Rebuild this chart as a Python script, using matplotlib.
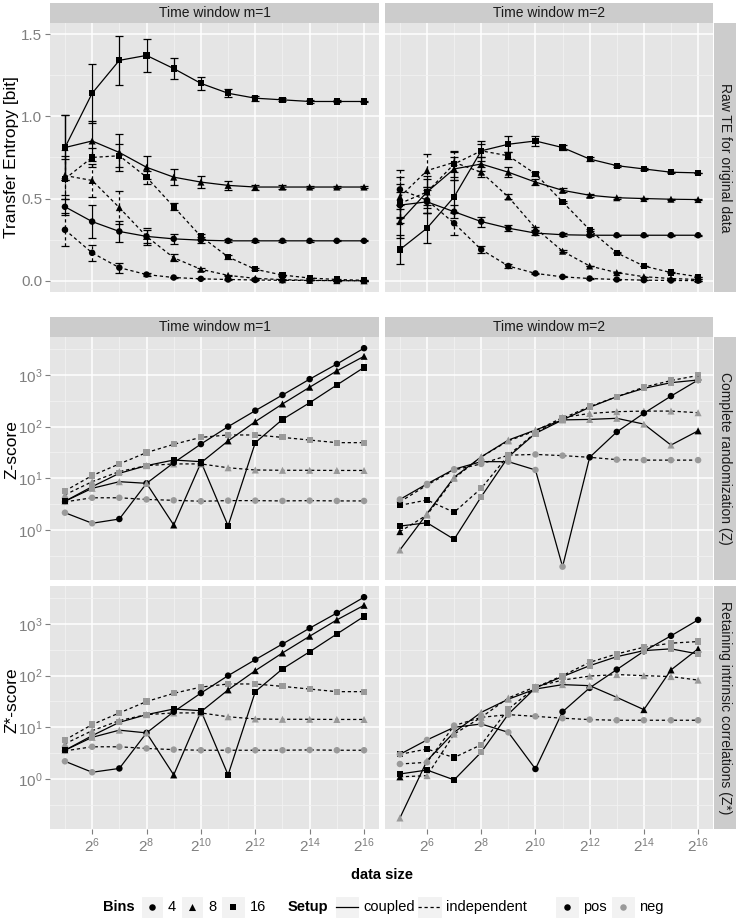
import numpy as np
import matplotlib
matplotlib.use('Agg')
import matplotlib.pyplot as plt
from matplotlib.ticker import FixedLocator, FixedFormatter, NullFormatter
from matplotlib.patches import Rectangle
from matplotlib.lines import Line2D

plt.rcParams['font.family'] = ['Liberation Sans', 'DejaVu Sans']
plt.rcParams['mathtext.fontset'] = 'custom'
plt.rcParams['mathtext.rm'] = 'Liberation Sans'
plt.rcParams['mathtext.default'] = 'regular'

# ---------------- data ----------------
exponents = [5, 6, 7, 8, 9, 10, 11, 12, 13, 14, 15, 16]
sizes = [2 ** e for e in exponents]
xtick_exps = [6, 8, 10, 12, 14, 16]
col_titles = ["Time window m=1", "Time window m=2"]
row_titles = ["Raw TE for original data", "Complete randomization (Z)",
              "Retaining intrinsic correlations (Z*)"]
bins_labels = ["4", "8", "16"]
setup_labels = ["coupled", "independent"]
sign_labels = ["pos", "neg"]

# Raw TE, m=1
te1_c4 = [0.45, 0.36, 0.30, 0.27, 0.255, 0.247, 0.243, 0.243, 0.243, 0.243, 0.243, 0.243]
te1_c4_err = [0.05, 0.10, 0.065, 0.04, 0.03, 0.02, 0.01, 0.008, 0.006, 0.005, 0.004, 0.003]
te1_c8 = [0.81, 0.85, 0.78, 0.69, 0.63, 0.60, 0.58, 0.57, 0.57, 0.57, 0.57, 0.57]
te1_c8_err = [0.20, 0.12, 0.11, 0.07, 0.05, 0.035, 0.025, 0.015, 0.01, 0.008, 0.006, 0.005]
te1_c16 = [0.81, 1.14, 1.34, 1.37, 1.29, 1.20, 1.14, 1.11, 1.10, 1.09, 1.09, 1.09]
te1_c16_err = [0.20, 0.18, 0.15, 0.10, 0.065, 0.04, 0.025, 0.015, 0.01, 0.008, 0.006, 0.005]
te1_i4 = [0.31, 0.17, 0.08, 0.038, 0.02, 0.012, 0.008, 0.005, 0.003, 0.002, 0.001, 0.0]
te1_i4_err = [0.10, 0.05, 0.03, 0.01, 0.005, 0.003, 0.002, 0.001, 0.001, 0.0, 0.0, 0.0]
te1_i8 = [0.64, 0.61, 0.445, 0.27, 0.14, 0.07, 0.033, 0.015, 0.007, 0.003, 0.001, 0.0]
te1_i8_err = [0.12, 0.10, 0.10, 0.05, 0.02, 0.01, 0.005, 0.003, 0.002, 0.001, 0.0, 0.0]
te1_i16 = [0.62, 0.75, 0.76, 0.63, 0.45, 0.27, 0.145, 0.07, 0.035, 0.017, 0.008, 0.003]
te1_i16_err = [0.12, 0.06, 0.07, 0.04, 0.02, 0.015, 0.01, 0.005, 0.003, 0.002, 0.001, 0.0]

# Raw TE, m=2
te2_c4 = [0.46, 0.48, 0.42, 0.36, 0.32, 0.29, 0.28, 0.277, 0.277, 0.277, 0.277, 0.277]
te2_c4_err = [0.08, 0.07, 0.04, 0.03, 0.02, 0.012, 0.008, 0.005, 0.004, 0.003, 0.003, 0.002]
te2_c8 = [0.36, 0.54, 0.68, 0.71, 0.66, 0.60, 0.55, 0.52, 0.505, 0.50, 0.496, 0.494]
te2_c8_err = [0.10, 0.08, 0.07, 0.04, 0.03, 0.02, 0.012, 0.008, 0.005, 0.004, 0.003, 0.002]
te2_c16 = [0.19, 0.32, 0.51, 0.79, 0.83, 0.85, 0.81, 0.74, 0.70, 0.68, 0.66, 0.656]
te2_c16_err = [0.09, 0.09, 0.10, 0.06, 0.05, 0.03, 0.015, 0.01, 0.006, 0.004, 0.003, 0.002]
te2_i4 = [0.555, 0.49, 0.35, 0.19, 0.09, 0.045, 0.024, 0.014, 0.008, 0.004, 0.002, 0.001]
te2_i4_err = [0.12, 0.08, 0.07, 0.02, 0.01, 0.005, 0.003, 0.002, 0.001, 0.0, 0.0, 0.0]
te2_i8 = [0.51, 0.67, 0.72, 0.66, 0.51, 0.32, 0.18, 0.09, 0.05, 0.025, 0.014, 0.008]
te2_i8_err = [0.12, 0.10, 0.06, 0.03, 0.015, 0.01, 0.005, 0.003, 0.002, 0.001, 0.0, 0.0]
te2_i16 = [0.47, 0.54, 0.71, 0.79, 0.76, 0.65, 0.48, 0.31, 0.17, 0.09, 0.05, 0.025]
te2_i16_err = [0.12, 0.10, 0.08, 0.04, 0.02, 0.012, 0.008, 0.005, 0.003, 0.002, 0.001, 0.0]

# Z-score (complete randomization), m=1
z1_c4 = [2.16, 1.35, 1.63, 8.0, 20, 46, 100, 204, 410, 830, 1630, 3300]
z1_c4_sign = ['n', 'n', 'p', 'p', 'p', 'p', 'p', 'p', 'p', 'p', 'p', 'p']
z1_c8 = [3.6, 6.4, 8.6, 8.0, 1.25, 20, 53, 125, 275, 580, 1200, 2300]
z1_c8_sign = ['n', 'n', 'n', 'n', 'p', 'p', 'p', 'p', 'p', 'p', 'p', 'p']
z1_c16 = [3.6, 6.9, 12.5, 17.6, 22.6, 21, 1.2, 49, 138, 290, 640, 1400]
z1_c16_sign = ['p', 'n', 'n', 'n', 'p', 'p', 'p', 'p', 'p', 'p', 'p', 'p']
z1_i4 = [3.5, 4.2, 4.2, 3.9, 3.75, 3.6, 3.7, 3.7, 3.65, 3.7, 3.65, 3.65]
z1_i8 = [4.8, 8.6, 13.5, 17.6, 19, 19, 16, 14.5, 14.3, 14.3, 14.2, 14.2]
z1_i16 = [5.7, 11.3, 19, 31.5, 45.5, 62, 69, 69, 62, 55, 49, 49]
z1_i_sign = ['n'] * 12

# Z-score, m=2
z2_c4 = [3.9, 7.8, 15, 21, 21, 14.5, 0.195, 25.5, 79, 182, 390, 800]
z2_c4_sign = ['n', 'n', 'n', 'n', 'n', 'n', 'n', 'p', 'p', 'p', 'p', 'p']
z2_c8 = [0.41, 2.07, 10.5, 26, 55, 86, 135, 138, 145, 112, 44, 83]
z2_c8_sign = ['n'] * 11 + ['p']
z2_c16 = [1.19, 1.38, 0.66, 4.4, 26, 74, 135, 237, 380, 550, 710, 800]
z2_c16_sign = ['p', 'p', 'p'] + ['n'] * 9
z2_i4 = [3.5, 7.4, 14.5, 19, 28, 29, 27.5, 25.5, 23, 22.5, 22.5, 22.5]
z2_i4_sign = ['n'] * 12
z2_i8 = [0.93, 1.95, 10, 26, 53, 83, 150, 180, 195, 200, 200, 186]
z2_i8_sign = ['p'] + ['n'] * 11
z2_i16 = [3.0, 3.8, 2.2, 6.4, 28, 76, 145, 245, 380, 580, 780, 980]
z2_i16_sign = ['p', 'p', 'p'] + ['n'] * 9

# Z*-score (retaining intrinsic correlations), m=1
zs1_c4 = [2.2, 1.35, 1.6, 7.8, 20, 46, 100, 204, 410, 830, 1630, 3300]
zs1_c4_sign = ['n', 'n', 'p', 'p', 'p', 'p', 'p', 'p', 'p', 'p', 'p', 'p']
zs1_c8 = [3.6, 6.4, 8.8, 7.8, 1.2, 20, 53, 125, 275, 580, 1200, 2300]
zs1_c8_sign = ['n', 'n', 'n', 'n', 'p', 'p', 'p', 'p', 'p', 'p', 'p', 'p']
zs1_c16 = [3.6, 6.9, 12.5, 17.6, 22.6, 21, 1.2, 49, 135, 290, 640, 1400]
zs1_c16_sign = ['p', 'n', 'n', 'n', 'p', 'p', 'p', 'p', 'p', 'p', 'p', 'p']
zs1_i4 = [3.5, 4.2, 4.2, 3.9, 3.7, 3.6, 3.6, 3.6, 3.6, 3.65, 3.6, 3.6]
zs1_i8 = [4.8, 8.6, 13.5, 17.6, 19, 19, 16, 14.5, 14.3, 14.3, 14.2, 14.2]
zs1_i16 = [5.7, 11.3, 19, 31.5, 45.5, 60, 69, 69, 62, 55, 49, 49]
zs1_i_sign = ['n'] * 12

# Z*-score, m=2
zs2_c4 = [3.0, 5.7, 10, 11.6, 8.0, 1.56, 20, 58, 131, 297, 590, 1200]
zs2_c4_sign = ['n'] * 5 + ['p'] * 7
zs2_c8 = [0.176, 2.26, 8.0, 19.5, 35, 55, 67, 64, 38, 22, 129, 330]
zs2_c8_sign = ['n'] * 9 + ['p'] * 3
zs2_c16 = [1.25, 1.49, 0.96, 3.3, 18, 58, 96, 156, 233, 305, 330, 263]
zs2_c16_sign = ['p', 'p', 'p'] + ['n'] * 9
zs2_i4 = [1.95, 2.1, 10.8, 15.6, 17.6, 16.3, 15, 14.1, 13.7, 13.7, 13.7, 13.7]
zs2_i4_sign = ['n'] * 12
zs2_i8 = [1.1, 1.16, 7.4, 15.6, 37, 61, 82, 98, 105, 100, 96, 82]
zs2_i8_sign = ['p'] + ['n'] * 11
zs2_i16 = [3.0, 3.8, 2.6, 4.6, 22.6, 59, 100, 181, 263, 355, 425, 457]
zs2_i16_sign = ['p', 'p', 'p'] + ['n'] * 9

# ---------------- style ----------------
W, H = 737, 919
GREY_NEG = '#9A9A9A'
PANEL_BG = '#E5E5E5'
STRIP_BG = '#CCCCCC'
TICK_COL = '#7F7F7F'
MARKERS = {'4': 'o', '8': '^', '16': 's'}
MSIZE = {'o': 22, '^': 26, 's': 20}
DASH = (0, (2.6, 2.2))
LW = 0.9

fig = plt.figure(figsize=(W / 100, H / 100), dpi=100)


def rect(x0, y0, x1, y1):
    return [x0 / W, 1 - y1 / H, (x1 - x0) / W, (y1 - y0) / H]


LEFT_X = (50, 379)
RIGHT_X = (385, 713)
ROWS_Y = [(23, 292), (337, 580), (586, 829)]
STRIP_X = (714, 736)


def style_panel(ax, kind, show_y, show_x):
    ax.set_facecolor(PANEL_BG)
    ax.set_xscale('log', base=2)
    ax.set_xlim(2 ** 4.45, 2 ** 16.55)
    ax.xaxis.set_major_locator(FixedLocator([2 ** e for e in xtick_exps]))
    ax.xaxis.set_major_formatter(FixedFormatter(['$2^{%d}$' % e for e in xtick_exps]))
    ax.xaxis.set_minor_locator(FixedLocator([2 ** e for e in range(5, 17, 2)]))
    ax.xaxis.set_minor_formatter(NullFormatter())
    if kind == 'te':
        ax.set_ylim(-0.068, 1.567)
        ax.yaxis.set_major_locator(FixedLocator([0, 0.5, 1.0, 1.5]))
        ax.yaxis.set_major_formatter(FixedFormatter(['0.0', '0.5', '1.0', '1.5']))
        ax.yaxis.set_minor_locator(FixedLocator([0.25, 0.75, 1.25]))
    else:
        ax.set_yscale('log')
        ax.set_ylim(10 ** -0.968, 10 ** 3.735)
        ax.yaxis.set_major_locator(FixedLocator([1, 10, 100, 1000]))
        ax.yaxis.set_major_formatter(FixedFormatter(['$10^{0}$', '$10^{1}$', '$10^{2}$', '$10^{3}$']))
        ax.yaxis.set_minor_locator(FixedLocator([10 ** (k + 0.5) for k in range(-1, 4)]))
    ax.yaxis.set_minor_formatter(NullFormatter())
    ax.grid(which='major', color='white', lw=1.1)
    ax.grid(which='minor', color='#F2F2F2', lw=0.6)
    ax.set_axisbelow(True)
    for sp in ax.spines.values():
        sp.set_visible(False)
    ax.tick_params(which='minor', length=0)
    ax.tick_params(axis='y', which='major', length=3.5 if show_y else 0, color=TICK_COL,
                   labelcolor=TICK_COL, labelsize=11, labelleft=show_y, pad=2)
    ax.tick_params(axis='x', which='major', length=3.5 if show_x else 0, color=TICK_COL,
                   labelcolor=TICK_COL, labelsize=11, labelbottom=show_x, pad=2)


def add_strip(x0, y0, x1, y1, text, rot):
    sa = fig.add_axes(rect(x0, y0, x1, y1))
    sa.set_facecolor(STRIP_BG)
    sa.set_xticks([])
    sa.set_yticks([])
    for sp in sa.spines.values():
        sp.set_visible(False)
    sa.text(0.5, 0.5, text, rotation=rot, ha='center', va='center',
            fontsize=10, color='#1A1A1A', transform=sa.transAxes)


def draw_series(ax, y, setup, b, signs, err=None):
    ls = '-' if setup == 'coupled' else DASH
    ax.plot(sizes, y, color='black', lw=LW, ls=ls, zorder=3)
    if err is not None:
        eb = ax.errorbar(sizes, y, yerr=err, fmt='none', ecolor='black',
                         elinewidth=LW, capsize=2.6, capthick=LW, zorder=3)
        eb[2][0].set_linestyle(ls)
    m = MARKERS[b]
    cols = ['black' if s == 'p' else GREY_NEG for s in signs]
    ax.scatter(sizes, y, marker=m, c=cols, s=MSIZE[m], linewidths=0, zorder=4)


ALLPOS = ['p'] * 12

panels = [
    # row 0: raw TE
    [
        [(te1_i4, 'independent', '4', ALLPOS, te1_i4_err),
         (te1_i8, 'independent', '8', ALLPOS, te1_i8_err),
         (te1_i16, 'independent', '16', ALLPOS, te1_i16_err),
         (te1_c4, 'coupled', '4', ALLPOS, te1_c4_err),
         (te1_c8, 'coupled', '8', ALLPOS, te1_c8_err),
         (te1_c16, 'coupled', '16', ALLPOS, te1_c16_err)],
        [(te2_i4, 'independent', '4', ALLPOS, te2_i4_err),
         (te2_i8, 'independent', '8', ALLPOS, te2_i8_err),
         (te2_i16, 'independent', '16', ALLPOS, te2_i16_err),
         (te2_c4, 'coupled', '4', ALLPOS, te2_c4_err),
         (te2_c8, 'coupled', '8', ALLPOS, te2_c8_err),
         (te2_c16, 'coupled', '16', ALLPOS, te2_c16_err)],
    ],
    # row 1: Z
    [
        [(z1_i4, 'independent', '4', z1_i_sign, None),
         (z1_i8, 'independent', '8', z1_i_sign, None),
         (z1_i16, 'independent', '16', z1_i_sign, None),
         (z1_c4, 'coupled', '4', z1_c4_sign, None),
         (z1_c8, 'coupled', '8', z1_c8_sign, None),
         (z1_c16, 'coupled', '16', z1_c16_sign, None)],
        [(z2_i4, 'independent', '4', z2_i4_sign, None),
         (z2_i8, 'independent', '8', z2_i8_sign, None),
         (z2_i16, 'independent', '16', z2_i16_sign, None),
         (z2_c4, 'coupled', '4', z2_c4_sign, None),
         (z2_c8, 'coupled', '8', z2_c8_sign, None),
         (z2_c16, 'coupled', '16', z2_c16_sign, None)],
    ],
    # row 2: Z*
    [
        [(zs1_i4, 'independent', '4', zs1_i_sign, None),
         (zs1_i8, 'independent', '8', zs1_i_sign, None),
         (zs1_i16, 'independent', '16', zs1_i_sign, None),
         (zs1_c4, 'coupled', '4', zs1_c4_sign, None),
         (zs1_c8, 'coupled', '8', zs1_c8_sign, None),
         (zs1_c16, 'coupled', '16', zs1_c16_sign, None)],
        [(zs2_i4, 'independent', '4', zs2_i4_sign, None),
         (zs2_i8, 'independent', '8', zs2_i8_sign, None),
         (zs2_i16, 'independent', '16', zs2_i16_sign, None),
         (zs2_c4, 'coupled', '4', zs2_c4_sign, None),
         (zs2_c8, 'coupled', '8', zs2_c8_sign, None),
         (zs2_c16, 'coupled', '16', zs2_c16_sign, None)],
    ],
]

kinds = ['te', 'z', 'z']
for r in range(3):
    y0, y1 = ROWS_Y[r]
    for c, (x0, x1) in enumerate([LEFT_X, RIGHT_X]):
        ax = fig.add_axes(rect(x0, y0, x1, y1))
        style_panel(ax, kinds[r], show_y=(c == 0), show_x=(r == 2))
        for (y, setup, b, signs, err) in panels[r][c]:
            draw_series(ax, y, setup, b, signs, err)
    add_strip(STRIP_X[0], y0, STRIP_X[1], y1, row_titles[r], -90)

# column strips (top plot and middle plot)
for (sy0, sy1) in [(3, 23), (317, 337)]:
    add_strip(LEFT_X[0], sy0, LEFT_X[1], sy1, col_titles[0], 0)
    add_strip(RIGHT_X[0], sy0, RIGHT_X[1], sy1, col_titles[1], 0)

# axis titles
fig.text(12 / W, 1 - 157 / H, "Transfer Entropy [bit]", rotation=90, ha='center', va='center',
         fontsize=12.5)
fig.text(12 / W, 1 - 450 / H, "Z-score", rotation=90, ha='center', va='center', fontsize=12.5)
fig.text(12 / W, 1 - 700 / H, "Z*-score", rotation=90, ha='center', va='center', fontsize=12.5)
fig.text(382 / W, 1 - 875 / H, "data size", ha='center', va='center', fontsize=10.5,
         fontweight='bold')

# ---------------- legend ----------------
lg = fig.add_axes([0, 0, 1, 1], facecolor='none')
lg.set_xlim(0, W)
lg.set_ylim(H, 0)
lg.axis('off')
LY = 907
KEY_H = 22


def key_box(x0, x1):
    lg.add_patch(Rectangle((x0, LY - KEY_H / 2), x1 - x0, KEY_H, facecolor='#F2F2F2',
                           edgecolor='white', lw=0.8))


lg.text(103, LY, "Bins", ha='left', va='center', fontsize=10.5, fontweight='bold')
bin_keys = [(141, 163, 168), (181, 203, 208), (221, 245, 250)]
for (kx0, kx1, tx), b in zip(bin_keys, bins_labels):
    key_box(kx0, kx1)
    m = MARKERS[b]
    lg.scatter([(kx0 + kx1) / 2], [LY], marker=m, s=MSIZE[m], c='black', linewidths=0)
    lg.text(tx, LY, b, ha='left', va='center', fontsize=10.5)

lg.text(288, LY, "Setup", ha='left', va='center', fontsize=10.5, fontweight='bold')
setup_keys = [(335, 359, 363, '-'), (417, 442, 446, DASH)]
for (kx0, kx1, tx, ls), s in zip(setup_keys, setup_labels):
    key_box(kx0, kx1)
    lg.add_line(Line2D([kx0 + 1, kx1 - 1], [LY, LY], color='black', lw=LW, ls=ls))
    lg.text(tx, LY, s, ha='left', va='center', fontsize=10.5)

sign_keys = [(555, 579, 583, 'black'), (611, 635, 639, GREY_NEG)]
for (kx0, kx1, tx, col), s in zip(sign_keys, sign_labels):
    key_box(kx0, kx1)
    lg.scatter([(kx0 + kx1) / 2], [LY], marker='o', s=MSIZE['o'], c=col, linewidths=0)
    lg.text(tx, LY, s, ha='left', va='center', fontsize=10.5)

fig.savefig('out.png', dpi=100)
